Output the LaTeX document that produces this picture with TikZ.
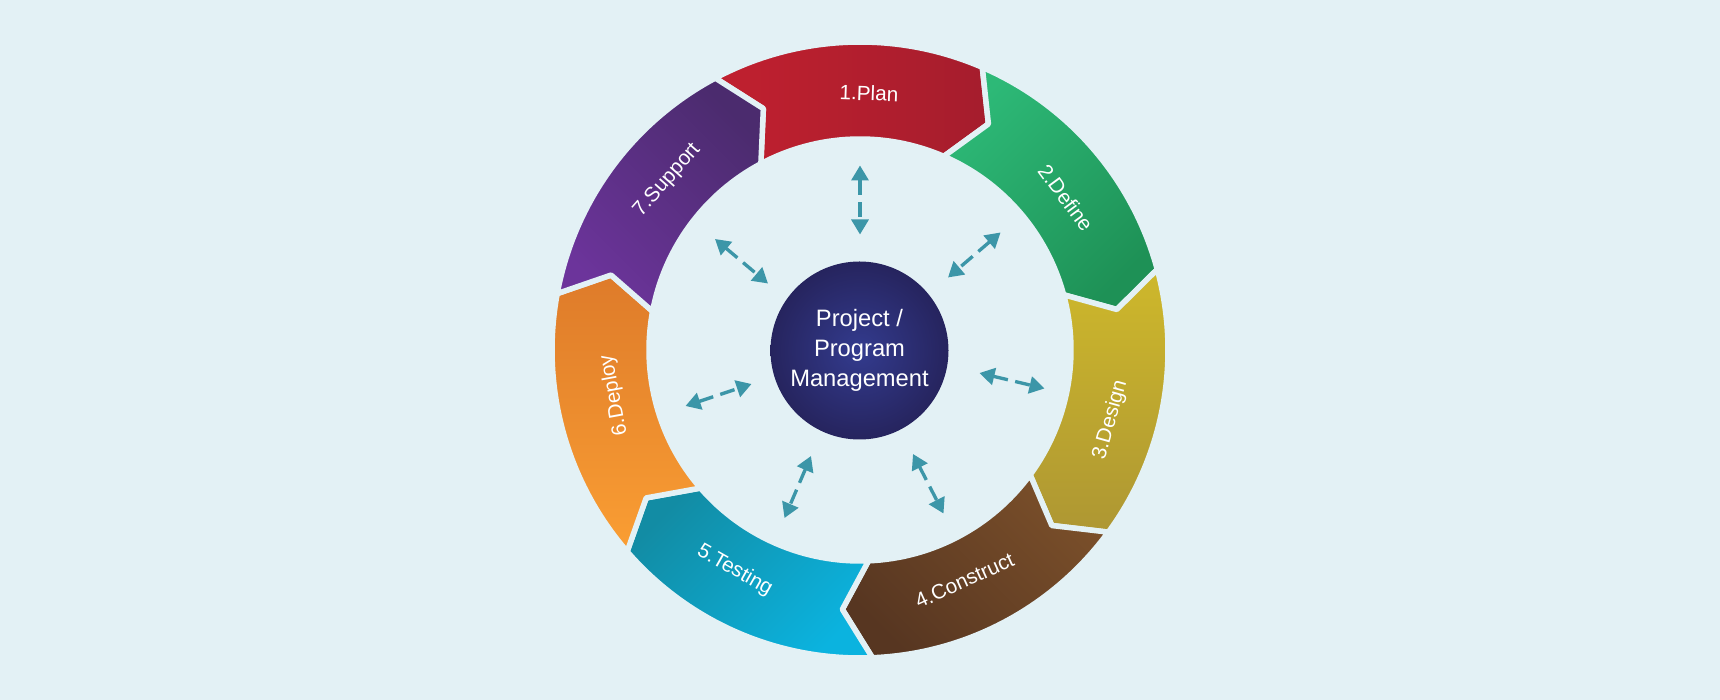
\documentclass[tikz,border=0pt]{standalone}
\usepackage{fontspec}
\setmainfont{Liberation Sans}
\usetikzlibrary{arrows.meta,positioning}

\definecolor{bgblue}{HTML}{E3F1F5}
\definecolor{arrowteal}{HTML}{3C96A8}
\definecolor{plantop}{HTML}{C1202F}
\definecolor{planbot}{HTML}{A51D2D}
\definecolor{deftop}{HTML}{2DB977}
\definecolor{defbot}{HTML}{1E9156}
\definecolor{destop}{HTML}{CEB82B}
\definecolor{desbot}{HTML}{AE9733}
\definecolor{contop}{HTML}{7A4F2A}
\definecolor{conbot}{HTML}{573621}
\definecolor{testop}{HTML}{128CA4}
\definecolor{tesbot}{HTML}{0BB3DF}
\definecolor{deptop}{HTML}{DE7B2A}
\definecolor{depbot}{HTML}{FA9E33}
\definecolor{suptop}{HTML}{4B2B6E}
\definecolor{supbot}{HTML}{6C349B}
\definecolor{pmin}{HTML}{333B8E}
\definecolor{pmout}{HTML}{26245E}

\begin{document}
\begin{tikzpicture}[
    seg/.style={draw=bgblue, line width=1.1mm, line join=round},
    lbl/.style={text=white, font=\fontsize{11.8}{14}\selectfont},
    twoway/.style={draw=arrowteal, line width=1.9pt,
        dash pattern=on 0.3cm off 0.15cm,
        {Triangle[length=0.3cm,width=0.34cm]}-{Triangle[length=0.3cm,width=0.34cm]}}
]
    % Background and page size
    \fill[bgblue] (0,0) rectangle (34.4,14);
    \useasboundingbox (0,0) rectangle (34.4,14);

    \begin{scope}[shift={(17.2,7)}]
        % Ring of chevron segments, clockwise from Plan
        \foreach \a/\ct/\cb/\sa in {118.03/plantop/planbot/90, 66.6/deftop/defbot/45,
                15.17/destop/desbot/0, -36.26/contop/conbot/-45,
                -87.69/testop/tesbot/45, -139.12/deptop/depbot/0,
                -190.55/suptop/supbot/-45}
            \shade[seg, top color=\ct, bottom color=\cb, shading angle=\sa]
                (\a:6.16) arc[start angle=\a, end angle=\a-51.43, radius=6.16]
                -- ({\a-57.63}:5.2) -- ({\a-51.43}:4.22)
                arc[start angle=\a-51.43, end angle=\a, radius=4.22]
                -- ({\a-6.2}:5.2) -- cycle;

        % Segment labels
        \node[lbl, rotate=-2] (plan) at (88:5.14) {1.Plan};
        \node[lbl, rotate=-53.5] (define) at (36.5:5.12) {2.Define};
        \node[lbl, rotate=74.4] (design) at (-15.6:5.2) {3.Design};
        \node[lbl, rotate=24.4] (construct) at (-65.6:5.06) {4.Construct};
        \node[lbl, rotate=-29.6] (testing) at (-119.6:5.07) {5.Testing};
        \node[lbl, rotate=100.4] (deploy) at (190.4:5.0) {6.Deploy};
        \node[lbl, rotate=48.6] (support) at (138.6:5.14) {7.Support};
    \end{scope}

    % Hub
    \node[circle, minimum size=3.56cm, inner sep=0pt, inner color=pmin, outer color=pmout,
        text=white, align=center, font=\fontsize{13.5}{17}\selectfont] (pm) at (17.19,6.99)
        {Project /\\Program\\Management};

    % Two-way arrows round the hub
    \coordinate (topA) at (17.2,10.69);
    \coordinate (topB) at (17.2,9.31);
    \coordinate (ulA) at (14.3,9.22);
    \coordinate (ulB) at (15.36,8.33);
    \coordinate (urA) at (20.01,9.35);
    \coordinate (urB) at (18.96,8.45);
    \coordinate (lA) at (13.71,5.88);
    \coordinate (lB) at (15.03,6.32);
    \coordinate (rA) at (19.59,6.54);
    \coordinate (rB) at (20.89,6.23);
    \coordinate (llA) at (16.22,4.88);
    \coordinate (llB) at (15.69,3.64);
    \coordinate (lrA) at (18.26,4.92);
    \coordinate (lrB) at (18.87,3.73);

    \draw[twoway] (topA) -- (topB);
    \draw[twoway] (ulA) -- (ulB);
    \draw[twoway] (urA) -- (urB);
    \draw[twoway] (lA) -- (lB);
    \draw[twoway] (rA) -- (rB);
    \draw[twoway] (llA) -- (llB);
    \draw[twoway] (lrA) -- (lrB);
\end{tikzpicture}
\end{document}
